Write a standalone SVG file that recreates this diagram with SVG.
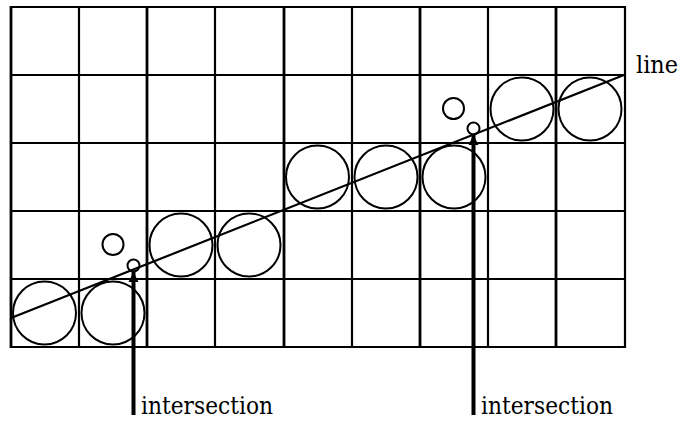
<svg xmlns="http://www.w3.org/2000/svg" width="681" height="423" viewBox="0 0 681 423">
<style>
.g{stroke:#000;stroke-width:2.2;fill:none}
.gt{stroke:#000;stroke-width:2.8;fill:none}
.c{stroke:#000;stroke-width:2;fill:none}
.t{font-family:"DejaVu Serif",serif;font-size:24px;fill:#000}
.a{stroke:#000;stroke-width:4;fill:none}
</style>
<defs>
<marker id="ah" viewBox="0 0 10 10" refX="10" refY="5" markerWidth="2.6" markerHeight="2.6" orient="auto" markerUnits="strokeWidth">
<path d="M0,0 L10,5 L0,10 z" fill="#000"/>
</marker>
</defs>
<g id="grid">
<line class="g" x1="10" y1="7" x2="626" y2="7"/>
<line class="g" x1="10" y1="75" x2="626" y2="75"/>
<line class="g" x1="10" y1="143" x2="626" y2="143"/>
<line class="g" x1="10" y1="211" x2="626" y2="211"/>
<line class="g" x1="10" y1="279" x2="626" y2="279"/>
<line class="g" x1="10" y1="347" x2="626" y2="347"/>
<line class="gt" x1="11" y1="6" x2="11" y2="348"/>
<line class="g" x1="79" y1="6" x2="79" y2="348"/>
<line class="gt" x1="147" y1="6" x2="147" y2="348"/>
<line class="g" x1="215" y1="6" x2="215" y2="348"/>
<line class="gt" x1="284" y1="6" x2="284" y2="348"/>
<line class="g" x1="352" y1="6" x2="352" y2="348"/>
<line class="gt" x1="420" y1="6" x2="420" y2="348"/>
<line class="g" x1="488" y1="6" x2="488" y2="348"/>
<line class="gt" x1="556" y1="6" x2="556" y2="348"/>
<line class="g" x1="625" y1="6" x2="625" y2="348"/>
</g>
<g id="circles">
<circle class="c" cx="44.5" cy="313" r="31.5"/>
<circle class="c" cx="113" cy="313" r="31.5"/>
<circle class="c" cx="181" cy="245" r="31.5"/>
<circle class="c" cx="249" cy="245" r="31.5"/>
<circle class="c" cx="317.5" cy="177" r="31.5"/>
<circle class="c" cx="386" cy="177" r="31.5"/>
<circle class="c" cx="454" cy="177" r="31.5"/>
<circle class="c" cx="522" cy="109" r="31.5"/>
<circle class="c" cx="590" cy="109" r="31.5"/>
<circle class="c" cx="113" cy="244.5" r="10.5"/>
<circle class="c" cx="133.5" cy="265.5" r="6"/>
<circle class="c" cx="453.5" cy="108.5" r="10.5"/>
<circle class="c" cx="473.5" cy="128.5" r="6"/>
</g>
<g id="connectors">
<line class="g" x1="11" y1="318" x2="624" y2="75"/>
<line class="a" x1="133.5" y1="415" x2="133.5" y2="272" marker-end="url(#ah)"/>
<line class="a" x1="473.5" y1="415" x2="473.5" y2="135" marker-end="url(#ah)"/>
</g>
<g id="labels">
<text class="t" x="636" y="73" textLength="42" lengthAdjust="spacingAndGlyphs">line</text>
<text class="t" x="141" y="414" textLength="132" lengthAdjust="spacingAndGlyphs">intersection</text>
<text class="t" x="481" y="414" textLength="132" lengthAdjust="spacingAndGlyphs">intersection</text>
</g>
</svg>
